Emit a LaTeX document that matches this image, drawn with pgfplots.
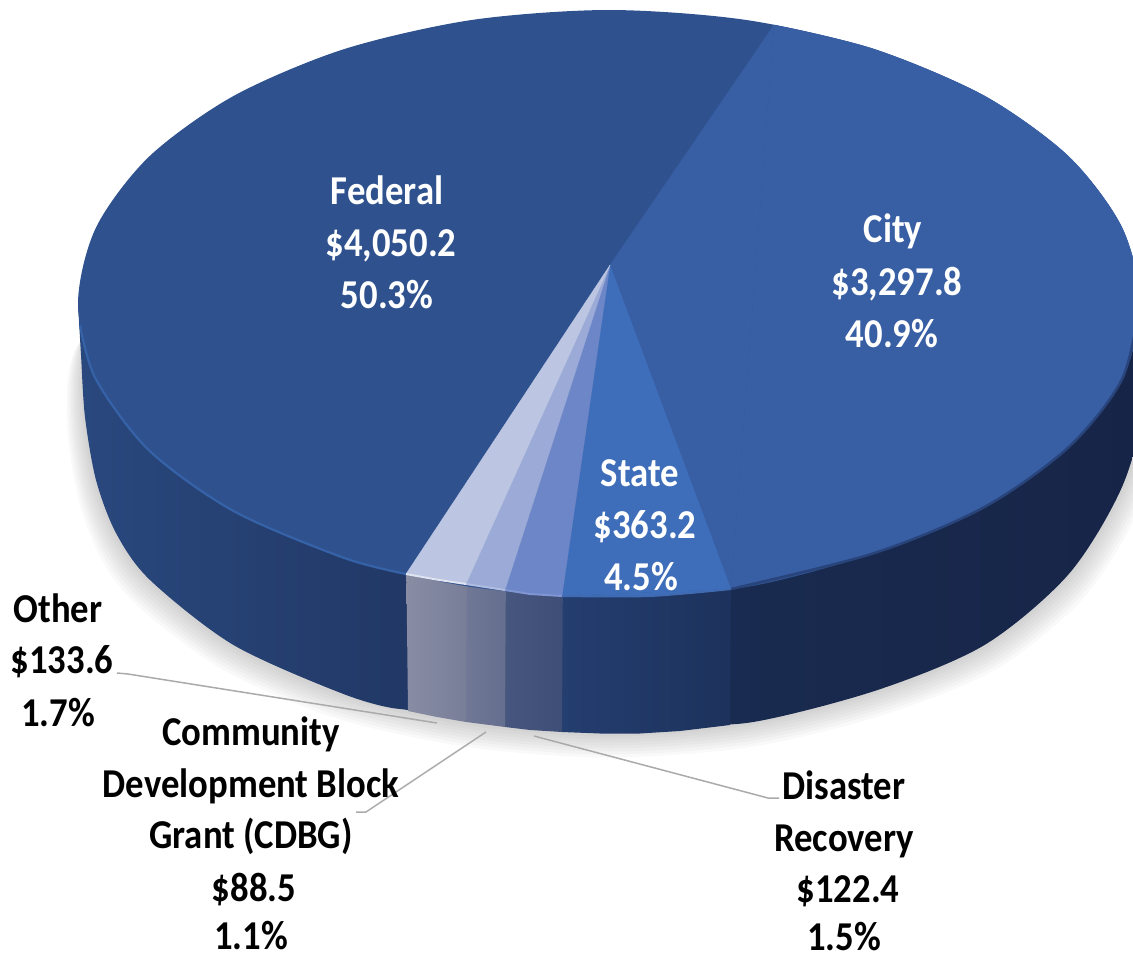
\documentclass[border=0pt]{standalone}
\usepackage{pgfplots}
\usepackage{pgfplotstable}
\usepackage{fontspec}
\pgfplotsset{compat=1.18}
\setmainfont[FakeStretch=0.895]{Carlito}
\definecolor{cFed}{RGB}{47,82,143}
\definecolor{cCity}{RGB}{56,94,164}
\definecolor{cState}{RGB}{62,109,185}
\definecolor{cDR}{RGB}{108,134,200}
\definecolor{cCDBG}{RGB}{155,170,214}
\definecolor{cOther}{RGB}{188,198,226}
\definecolor{cLead}{RGB}{170,170,170}
\tikzset{lab/.style={font=\fontsize{41}{41}\selectfont\bfseries,inner sep=0pt,anchor=base}}
\pgfplotstableread{
x y
140 280
95 320
84 360
85 417
96 480
116 533
150 580
233.5 645
343.5 694
471.6 723
609 733.5
746.4 723
874.5 691
984.5 645
1068.8 574
1122 487
1145 400
1120 320
1080 280
}\silhouette
\newcommand{\shadowlayer}[2]{%
  \addplot[draw=none,fill=black,fill opacity=0.022,smooth,forget plot]
    table[x expr={606+(\thisrow{x}-606)*#1},y expr={\thisrow{y}+#2}] {\silhouette};}
\begin{document}
\begin{tikzpicture}
\useasboundingbox (0,0) rectangle (1133pt,959pt);
\begin{axis}[
  at={(0,0)},anchor=south west,
  scale only axis,width=1133pt,height=959pt,
  xmin=0,xmax=1133,ymin=0,ymax=959,y dir=reverse,
  hide axis,clip=true]
% shadow
\shadowlayer{1.004}{3}
\shadowlayer{1.008}{6}
\shadowlayer{1.012}{9}
\shadowlayer{1.016}{12}
\shadowlayer{1.020}{15}
\shadowlayer{1.024}{18}
\shadowlayer{1.028}{21}
\shadowlayer{1.032}{24}
% side: Federal
\addplot[draw=none,left color=cFed!88!black,right color={rgb,255:red,33;green,55;blue,100},smooth] coordinates {
 (78,303)(81,355)(85,417)(96,480)(116,533)(150,580)(233.5,645)(343.5,694)(400,709)(425,700)(425,600)(380,500)(200,350)(100,280)};
% side: City
\addplot[draw=none,left color={rgb,255:red,26;green,44;blue,82},right color={rgb,255:red,22;green,36;blue,70},smooth] coordinates {
 (650,650)(680,715)(746.4,723)(874.5,691)(984.5,645)(1068.8,574)(1122,487)(1145,400)(1145,300)(900,400)};
% side: State
\addplot[draw=none,left color={rgb,255:red,36;green,62;blue,112},right color={rgb,255:red,29;green,50;blue,92}] coordinates {
 (560,560)(731,560)(730,725)(680,731)(640,733.5)(600,733.5)(562,732)};
% side: Disaster Recovery
\addplot[draw=none,left color={rgb,255:red,70;green,86;blue,126},right color={rgb,255:red,62;green,78;blue,118}] coordinates {
 (505,560)(563,560)(562,732)(530,730)(505,727)};
% side: CDBG
\addplot[draw=none,left color={rgb,255:red,112;green,120;blue,150},right color={rgb,255:red,100;green,110;blue,142}] coordinates {
 (466,560)(506,560)(505,727)(466,722)};
% side: Other
\addplot[draw=none,left color={rgb,255:red,136;green,141;blue,164},right color={rgb,255:red,120;green,126;blue,152}] coordinates {
 (406,540)(467,560)(466,722)(437,717)(408,711)};
% top: Federal
\addplot[draw=none,fill=cFed,smooth] coordinates {
 (78,303.5)(96,227.5)(149,156.7)(233.5,96)(343.5,49.3)(471.6,20)(609,10)(746.4,20)(874.5,49.3)(984.5,96)(1068.8,156.7)(1121.9,227.5)(1140,303.5)(1121.9,379.5)(1068.8,447)(984.5,507)(874.5,553)(746.4,587)(609,597)(471.6,587)(343.5,557.7)(233.5,511)(149,450.3)(96,379.5)(78,303.5)(96,227.5)(149,156.7)};
% top: City
\addplot[draw=cCity,line width=0.3pt,fill=cCity] coordinates {(610,265)(774,25)(731,589)(610,265)};
\addplot[draw=cCity,line width=0.5pt,fill=cCity,smooth] coordinates {
 (774,25)(874.5,49.3)(984.5,96)(1068.8,156.7)(1121.9,227.5)(1140,303.5)(1121.9,379.5)(1068.8,447)(984.5,507)(874.5,553)(731,589)};
% top: small slices
\addplot[draw=none,fill=cState,smooth] coordinates {(731,589)(650,596)(562,596)};
\addplot[draw=cState,line width=0.3pt,fill=cState] coordinates {(610,265)(731,589)(562,596)(610,265)};
\addplot[draw=cDR,line width=0.3pt,fill=cDR] coordinates {(610,265)(562,596)(530,594)(505,590)(610,265)};
\addplot[draw=cCDBG,line width=0.3pt,fill=cCDBG] coordinates {(610,265)(505,590)(466,584)(610,265)};
\addplot[draw=cOther,line width=0.3pt,fill=cOther] coordinates {(610,265)(466,584)(406,574)(610,265)};
% rims
\addplot[draw={rgb,255:red,54;green,98;blue,168},line width=2.2pt,smooth] coordinates {(80,325)(96,379.5)(149,450.3)(233.5,511)(343.5,557.7)(406,574)};
\addplot[draw={rgb,255:red,224;green,228;blue,240},line width=2pt] coordinates {(406,574)(436,579.5)(466,584)};
\addplot[draw={rgb,255:red,176;green,188;blue,224},line width=2pt] coordinates {(466,584)(505,590)};
\addplot[draw={rgb,255:red,128;green,150;blue,210},line width=2pt] coordinates {(505,590)(530,594)(562,596)};
\addplot[draw={rgb,255:red,64;green,106;blue,178},line width=2pt,smooth] coordinates {(562,596)(650,596)(731,589)};
\addplot[draw={rgb,255:red,40;green,68;blue,122},line width=2.5pt,smooth] coordinates {(731,589)(874.5,553)(984.5,507)(1068.8,447)(1121.9,379.5)(1140,303.5)};
% leaders
\addplot[draw=cLead,line width=1.5pt] coordinates {(117,673)(128,674)(437,723)};
\addplot[draw=cLead,line width=1.5pt] coordinates {(486,732)(366,812)(356,812)};
\addplot[draw=cLead,line width=1.5pt] coordinates {(534,736)(768,798)(779,798)};
% labels
\node[lab,white] at (axis cs:387,204) {Federal};
\node[lab,white] at (axis cs:391,256) {\$4,050.2};
\node[lab,white] at (axis cs:387,308) {50.3\%};
\node[lab,white] at (axis cs:893,242) {City};
\node[lab,white] at (axis cs:897,295) {\$3,297.8};
\node[lab,white] at (axis cs:892,347) {40.9\%};
\node[lab,white] at (axis cs:640,486) {State};
\node[lab,white] at (axis cs:645,538) {\$363.2};
\node[lab,white] at (axis cs:641,590) {4.5\%};
\node[lab] at (axis cs:58,622) {Other};
\node[lab] at (axis cs:62,673) {\$133.6};
\node[lab] at (axis cs:58,726) {1.7\%};
\node[lab] at (axis cs:251,745) {Community};
\node[lab] at (axis cs:251,797) {Development Block};
\node[lab] at (axis cs:251,848) {Grant (CDBG)};
\node[lab] at (axis cs:254,901) {\$88.5};
\node[lab] at (axis cs:251,949) {1.1\%};
\node[lab] at (axis cs:844,799) {Disaster};
\node[lab] at (axis cs:844,851) {Recovery};
\node[lab] at (axis cs:848,902) {\$122.4};
\node[lab] at (axis cs:844,950) {1.5\%};
\end{axis}
\end{tikzpicture}
\end{document}
